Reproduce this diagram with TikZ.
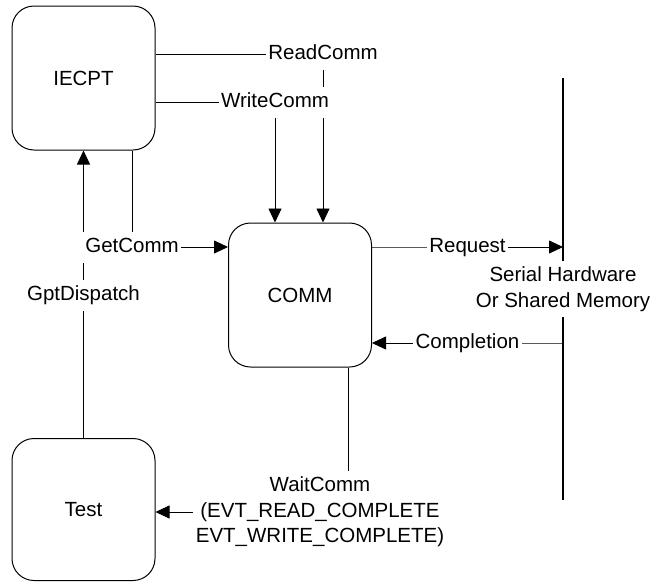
\documentclass[tikz,border=0pt]{standalone}
\usepackage{fontspec}
\setmainfont{Liberation Sans}
\usetikzlibrary{arrows.meta,backgrounds}
\begin{document}
\begin{tikzpicture}[x=1pt,y=-1pt,
  txt/.style={font=\fontsize{20.5}{25.5}\selectfont},
  box/.style={txt, draw, line width=1pt, rounded corners=22pt, minimum width=143pt, minimum height=144pt, inner sep=0pt},
  lbl/.style={txt, fill=white, inner xsep=2.5pt, inner ysep=6pt, text height=15pt, text depth=4pt},
  mlbl/.style={txt, fill=white, inner xsep=2.5pt, inner ysep=6pt, align=center},
  conn/.style={line width=0.8pt},
  arr/.style={conn, -{Triangle[length=14pt,width=13pt]}},
  hw/.style={line width=1.3pt}]
\useasboundingbox (0,0) rectangle (652,581);
\node[box] (iecpt) at (83.5,78) {IECPT};
\node[box] (comm) at (300,295) {COMM};
\node[box, minimum height=142pt] (test) at (83.5,509.5) {Test};
\node[lbl] (rc) at (323,54) {ReadComm};
\node[lbl] (wc) at (275,102) {WriteComm};
\node[lbl] (gc) at (132,247) {GetComm};
\node[lbl] (gd) at (83.5,295) {GptDispatch};
\node[lbl] (req) at (467.5,247) {Request};
\node[lbl] (cmp) at (467.5,343) {Completion};
\coordinate (hwtop) at (563,78);
\coordinate (hwbot) at (563,500);
\coordinate (wx) at (348,0);
\node[mlbl] (hwl) at (563,289) {Serial Hardware\\Or Shared Memory};
\node[mlbl] (wait) at (320,512) {WaitComm\\(EVT\_READ\_COMPLETE\\EVT\_WRITE\_COMPLETE)};
\begin{scope}[on background layer]
\draw[arr] (iecpt.east |- rc) -- (rc.center) -- (rc |- comm.north);
\draw[arr] (iecpt.east |- wc) -- (wc.center) -- (wc |- comm.north);
\draw[arr] (gc |- iecpt.south) -- (gc.center) -- (comm.west |- gc);
\draw[arr] (test.north) -- (gd.center) -- (iecpt.south);
\draw[arr] (comm.east |- req) -- (req.center) -- (hwtop |- req);
\draw[arr] (hwtop |- cmp) -- (cmp.center) -- (comm.east |- cmp);
\draw[hw] (hwtop) -- (hwl.center) -- (hwbot);
\draw[conn] (wx |- comm.south) -- (wx |- wait.north);
\draw[arr] (wait.west) -- (test.east |- wait.west);
\end{scope}
\end{tikzpicture}
\end{document}
